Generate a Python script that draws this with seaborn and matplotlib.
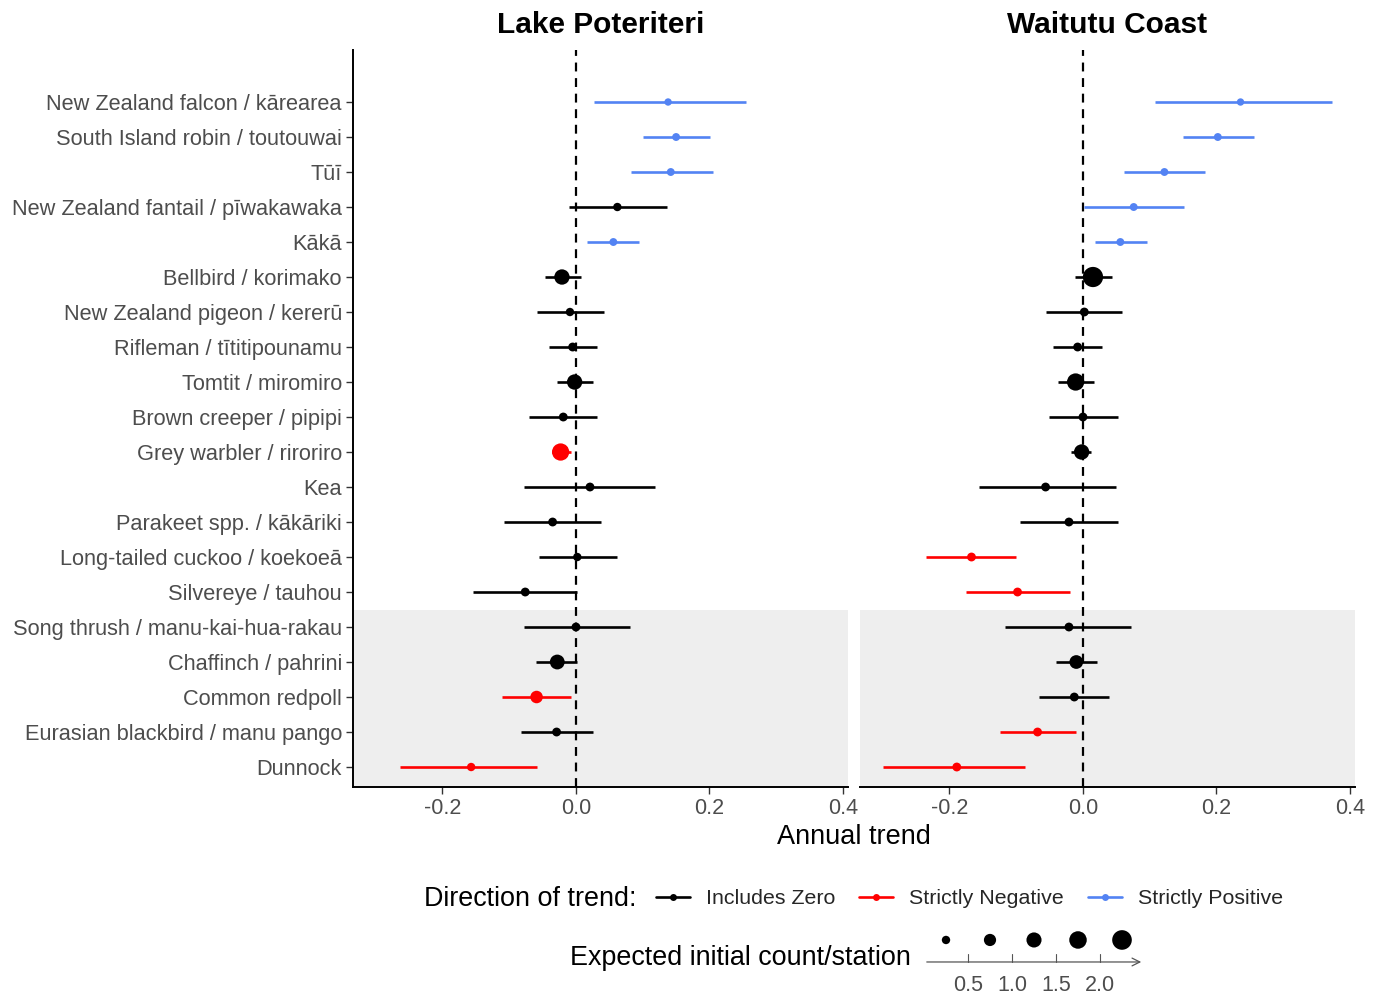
import numpy as np
import pandas as pd
import matplotlib
matplotlib.use("Agg")
import matplotlib.pyplot as plt
from matplotlib.lines import Line2D
import seaborn as sns

sns.set_theme(style="white")
plt.rcParams['font.family'] = ['Liberation Sans', 'DejaVu Sans']

species = [
    "New Zealand falcon / kārearea", "South Island robin / toutouwai", "Tūī",
    "New Zealand fantail / pīwakawaka", "Kākā", "Bellbird / korimako",
    "New Zealand pigeon / kererū", "Rifleman / tītitipounamu", "Tomtit / miromiro",
    "Brown creeper / pipipi", "Grey warbler / riroriro", "Kea",
    "Parakeet spp. / kākāriki", "Long-tailed cuckoo / koekoeā", "Silvereye / tauhou",
    "Song thrush / manu-kai-hua-rakau", "Chaffinch / pahrini", "Common redpoll",
    "Eurasian blackbird / manu pango", "Dunnock",
]
sites = ["Lake Poteriteri", "Waitutu Coast"]

lake_est = [0.138, 0.150, 0.142, 0.062, 0.056, -0.021, -0.009, -0.005, -0.002, -0.019,
            -0.023, 0.021, -0.035, 0.002, -0.076, 0.000, -0.028, -0.059, -0.029, -0.157]
lake_lo = [0.027, 0.100, 0.082, -0.011, 0.017, -0.047, -0.058, -0.040, -0.029, -0.070,
           -0.036, -0.078, -0.108, -0.056, -0.154, -0.078, -0.060, -0.111, -0.083, -0.263]
lake_hi = [0.255, 0.201, 0.205, 0.136, 0.095, 0.007, 0.042, 0.031, 0.025, 0.032,
           -0.008, 0.118, 0.038, 0.061, 0.001, 0.081, 0.002, -0.008, 0.026, -0.058]
lake_count = [0.15, 0.2, 0.2, 0.25, 0.2, 1.3, 0.25, 0.3, 1.3, 0.3,
              1.7, 0.3, 0.3, 0.25, 0.3, 0.3, 1.2, 0.8, 0.3, 0.25]

wait_est = [0.236, 0.202, 0.122, 0.076, 0.056, 0.015, 0.002, -0.008, -0.011, 0.000,
            -0.002, -0.056, -0.021, -0.167, -0.098, -0.021, -0.010, -0.013, -0.068, -0.189]
wait_lo = [0.108, 0.150, 0.061, 0.002, 0.018, -0.012, -0.056, -0.045, -0.037, -0.051,
           -0.018, -0.156, -0.094, -0.235, -0.175, -0.117, -0.041, -0.066, -0.124, -0.299]
wait_hi = [0.373, 0.256, 0.183, 0.151, 0.096, 0.043, 0.059, 0.029, 0.016, 0.052,
           0.012, 0.049, 0.053, -0.100, -0.019, 0.072, 0.021, 0.039, -0.011, -0.087]
wait_count = [0.15, 0.2, 0.2, 0.2, 0.2, 2.4, 0.3, 0.3, 1.7, 0.3,
              1.3, 0.3, 0.3, 0.3, 0.3, 0.3, 1.0, 0.3, 0.3, 0.3]

directions = ["Includes Zero", "Strictly Negative", "Strictly Positive"]
dir_colors = {"Includes Zero": "black", "Strictly Negative": "#FF0000",
              "Strictly Positive": "#5383F3"}
size_breaks = [0.5, 1.0, 1.5, 2.0]
size_bins = [0.25, 0.75, 1.25, 1.75, 2.25]

def direction(lo, hi):
    if lo > 0:
        return "Strictly Positive"
    if hi < 0:
        return "Strictly Negative"
    return "Includes Zero"

frames = []
for site, est, lo, hi, cnt in [(sites[0], lake_est, lake_lo, lake_hi, lake_count),
                               (sites[1], wait_est, wait_lo, wait_hi, wait_count)]:
    d = pd.DataFrame({"species": species, "est": est, "lo": lo, "hi": hi, "count": cnt})
    d["site"] = site
    d["pos"] = np.arange(len(species))
    d["direction"] = [direction(a, b) for a, b in zip(lo, hi)]
    frames.append(d)
df = pd.concat(frames, ignore_index=True)

W, H = 1379, 994
fig = plt.figure(figsize=(W / 100, H / 100), dpi=100)

def fx(px):
    return px / W

def fy(py):
    return 1 - py / H

ax_top, ax_bot = 50, 787
panels = [(353, 848), (860, 1355)]
XLIM = (-0.334, 0.4075)
YLIM = (19.571, -1.486)
SIZES = (16, 220)
SNORM = (0, 2.5)
grey_txt = "#4D4D4D"

axes = []
for i, (site, (x0, x1)) in enumerate(zip(sites, panels)):
    ax = fig.add_axes([fx(x0), fy(ax_bot), (x1 - x0) / W, (ax_bot - ax_top) / H])
    axes.append(ax)
    d = df[df["site"] == site]
    ax.axhspan(14.5, 20, color="#EEEEEE", zorder=0, lw=0)
    ax.axvline(0, color="black", ls=(0, (4, 3)), lw=1.6, zorder=1)
    ax.hlines(d["pos"], d["lo"], d["hi"], colors=[dir_colors[c] for c in d["direction"]],
              lw=1.9, zorder=2)
    sns.scatterplot(data=d, x="est", y="pos", hue="direction", palette=dir_colors,
                    hue_order=directions, size="count", sizes=SIZES, size_norm=SNORM,
                    edgecolor="none", linewidth=0, legend=False, ax=ax, zorder=3)
    ax.set_xlim(*XLIM)
    ax.set_ylim(*YLIM)
    ax.set_xticks([-0.2, 0.0, 0.2, 0.4])
    ax.set_xticklabels(["-0.2", "0.0", "0.2", "0.4"], fontsize=15.5, color=grey_txt)
    ax.set_xlabel("")
    ax.set_ylabel("")
    ax.tick_params(axis="x", length=5, width=1, color="#333333", pad=3, bottom=True)
    for s in ["top", "right"]:
        ax.spines[s].set_visible(False)
    ax.spines["bottom"].set_color("black")
    ax.spines["bottom"].set_linewidth(1.4)
    if i == 0:
        ax.set_yticks(d["pos"])
        ax.set_yticklabels(species, fontsize=15.7, color=grey_txt)
        ax.tick_params(axis="y", length=5, width=1, color="#333333", pad=3, left=True)
        ax.spines["left"].set_color("black")
        ax.spines["left"].set_linewidth(1.4)
    else:
        ax.set_yticks([])
        ax.spines["left"].set_visible(False)
    ax.text(0.5, 1 + 25 / (ax_bot - ax_top), site, transform=ax.transAxes,
            ha="center", va="center", fontsize=21.5, fontweight="bold", color="black")

fig.text(fx(854), fy(837), "Annual trend", ha="center", va="center", fontsize=19.5,
         color="black")

# Direction legend
fig.text(fx(637), fy(899), "Direction of trend:", ha="right", va="center", fontsize=19.4,
         color="black")
handles = [Line2D([0], [0], color=dir_colors[c], lw=1.9, marker="o", markersize=5,
                  markeredgewidth=0) for c in directions]
fig.legend(handles, directions, ncol=3, loc="center left",
           bbox_to_anchor=(fx(656), fy(899)), frameon=False, fontsize=15.4,
           handlelength=1.6, handletextpad=0.75, columnspacing=1.1, borderaxespad=0,
           borderpad=0)

# Size legend
fig.text(fx(911), fy(958), "Expected initial count/station", ha="right", va="center",
         fontsize=19.4, color="black")
lax = fig.add_axes([fx(924), fy(970), 220 / W, 45 / H])
ld = pd.DataFrame({"x": size_bins, "y": [1.0] * len(size_bins), "count": size_bins})
sns.scatterplot(data=ld, x="x", y="y", size="count", sizes=SIZES, size_norm=SNORM,
                color="black", edgecolor="none", legend=False, ax=lax)
lax.set_xlim(0, 2.5)
lax.set_ylim(-0.364, 1.68)
lax.axis("off")
lax.annotate("", xy=(2.5, 0), xytext=(0.0, 0),
             arrowprops=dict(arrowstyle="->", color="#555555", lw=0.9,
                             mutation_scale=14), annotation_clip=False)
for b in size_breaks:
    lax.plot([b, b], [0, 0.36], color="#555555", lw=0.8)
    lax.text(b, -1.05, f"{b:.1f}", ha="center", va="center", fontsize=15.5,
             color=grey_txt, clip_on=False)

fig.savefig("out.png", dpi=100)
